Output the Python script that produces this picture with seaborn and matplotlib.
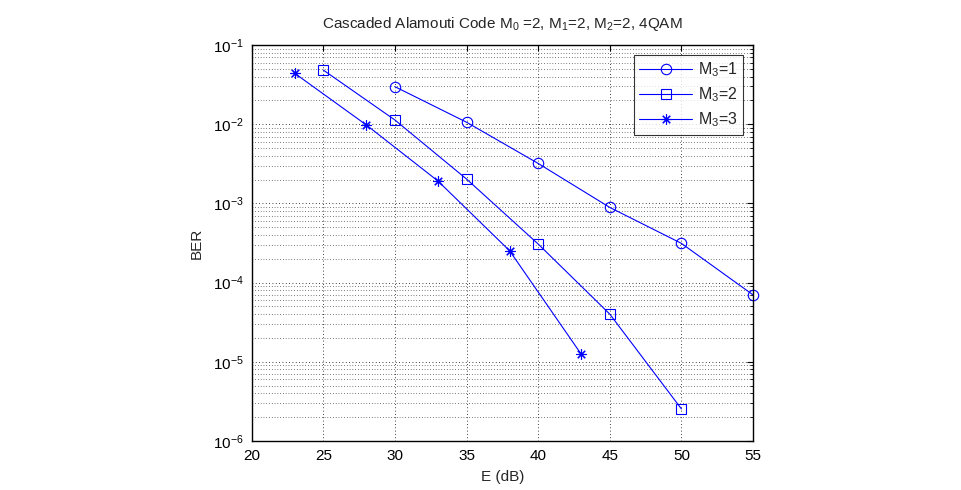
import numpy as np
import pandas as pd
import matplotlib
matplotlib.use("Agg")
import matplotlib.pyplot as plt
import seaborn as sns
from matplotlib.ticker import LogLocator, NullFormatter

# Data
e_m1 = [30, 35, 40, 45, 50, 55]
ber_m1 = [0.0298, 0.0106, 0.0032, 8.9e-4, 3.13e-4, 7.0e-5]
e_m2 = [25, 30, 35, 40, 45, 50]
ber_m2 = [0.0483, 0.0113, 0.00203, 3.07e-4, 4.0e-5, 2.54e-6]
e_m3 = [23, 28, 33, 38, 43]
ber_m3 = [0.044, 0.0098, 0.00192, 2.53e-4, 1.25e-5]
labels = ["M$_3$=1", "M$_3$=2", "M$_3$=3"]
x_ticks = [20, 25, 30, 35, 40, 45, 50, 55]

sns.set_style("white")
plt.rcParams["font.family"] = ["Liberation Sans", "DejaVu Sans"]
plt.rcParams["mathtext.fontset"] = "custom"
plt.rcParams["mathtext.rm"] = "Liberation Sans"
plt.rcParams["mathtext.it"] = "Liberation Sans"

fig = plt.figure(figsize=(9.62, 4.9), dpi=100)
ax = fig.add_axes([0.2617, 0.1, 0.5211, 0.808])

blue = "#0000ff"
series = [
    (e_m1, ber_m1, labels[0], "o", 7.5),
    (e_m2, ber_m2, labels[1], "s", 6.5),
    (e_m3, ber_m3, labels[2], (8, 2, 0), 7.5),
]
for xs, ys, lab, mk, ms in series:
    df = pd.DataFrame({"E": xs, "BER": ys})
    sns.lineplot(data=df, x="E", y="BER", ax=ax, color=blue, lw=0.8,
                 marker=mk, markersize=ms, mfc="none", mec=blue, mew=0.8,
                 label=lab, clip_on=False, zorder=5)

ax.set_yscale("log")
ax.set_xlim(20, 55)
ax.set_ylim(1e-6, 1e-1)
ax.set_xticks(x_ticks)
ax.xaxis.set_minor_locator(plt.NullLocator())
ax.yaxis.set_major_locator(LogLocator(base=10, numticks=10))
ax.yaxis.set_minor_locator(LogLocator(base=10, subs=np.arange(2, 10), numticks=20))
ax.yaxis.set_minor_formatter(NullFormatter())

ax.grid(True, which="major", axis="both", color="black", linestyle=(0, (1, 3)), lw=0.6)
ax.grid(True, which="minor", axis="y", color="black", linestyle=(0, (1, 3)), lw=0.5)

for s in ax.spines.values():
    s.set_color("black")
    s.set_linewidth(1.0)
    s.set_zorder(6)
ax.tick_params(which="both", direction="in", top=True, right=True, labelsize=11,
               colors="black", length=4, pad=6)
ax.tick_params(which="minor", length=2)

ax.set_xlabel("E (dB)", fontsize=11, labelpad=5)
ax.set_ylabel("BER", fontsize=11, labelpad=6)
ax.set_title("Cascaded Alamouti Code M$_0$ =2, M$_1$=2, M$_2$=2, 4QAM", fontsize=11, pad=12)

leg = ax.legend(loc="upper right", fontsize=11.5, frameon=True, fancybox=False,
                edgecolor="black", borderaxespad=0.6, handlelength=3.3,
                labelspacing=0.4, borderpad=0.35, handletextpad=0.4)
leg.get_frame().set_linewidth(0.8)
leg.set_zorder(10)

fig.savefig("out.png", dpi=100)
